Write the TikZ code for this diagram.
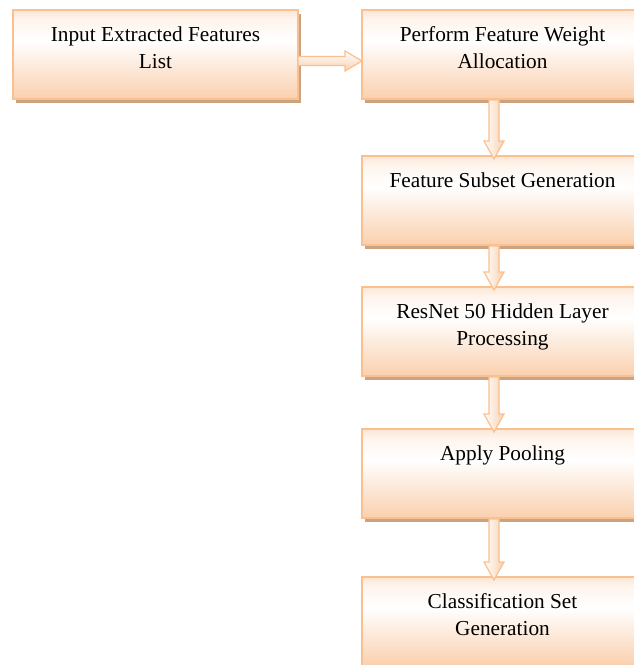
\documentclass[tikz,border=0pt]{standalone}
\usepackage{fontspec}
\setmainfont{Liberation Serif}
\usetikzlibrary{calc,shadows}
\definecolor{bord}{RGB}{250,192,144}
\definecolor{pkbot}{RGB}{250,208,174}
\definecolor{pktop}{RGB}{252,230,214}
\definecolor{pkmid}{RGB}{254,244,236}
\definecolor{shadc}{RGB}{204,163,128}
\pgfdeclareverticalshading{boxshade}{100bp}{color(0bp)=(pkbot); color(25bp)=(pkbot); color(58bp)=(white); color(70bp)=(pkmid); color(75bp)=(pktop); color(100bp)=(pktop)}
\newcommand\hblk[2]{%
  \begin{scope}[shift={(2pt,-3pt)}]
  \path[arrshadow] let \p1=(#1), \p2=(#2) in
    (\x1,\y1+4.5) -- (\x2-17,\y1+4.5) -- (\x2-17,\y1+10) -- (\x2,\y1) -- (\x2-17,\y1-10) -- (\x2-17,\y1-4.5) -- (\x1,\y1-4.5) -- cycle;
  \end{scope}
  \path[arr,top color=white,bottom color=pkbot] let \p1=(#1), \p2=(#2) in
    (\x1,\y1+4.5) -- (\x2-17,\y1+4.5) -- (\x2-17,\y1+10) -- (\x2,\y1) -- (\x2-17,\y1-10) -- (\x2-17,\y1-4.5) -- (\x1,\y1-4.5) -- cycle;
}
\newcommand\vblk[2]{%
  \begin{scope}[shift={(3pt,-2pt)}]
  \path[arrshadow] let \p1=(#1), \p2=(#2) in
    (\x1-5,\y1) -- (\x1-5,\y2+18) -- (\x1-10,\y2+18) -- (\x1,\y2) -- (\x1+10,\y2+18) -- (\x1+5,\y2+18) -- (\x1+5,\y1) -- cycle;
  \end{scope}
  \path[arr,left color=white,right color=pkbot] let \p1=(#1), \p2=(#2) in
    (\x1-5,\y1) -- (\x1-5,\y2+18) -- (\x1-10,\y2+18) -- (\x1,\y2) -- (\x1+10,\y2+18) -- (\x1+5,\y2+18) -- (\x1+5,\y1) -- cycle;
}
\begin{document}
\begin{tikzpicture}[x=1pt,y=1pt,
  box/.style={draw=bord,line width=2pt,shading=boxshade,minimum width=#1,minimum height=89pt,anchor=north west,inner sep=0pt,outer sep=0pt,drop shadow={shadow xshift=3pt,shadow yshift=-4pt,fill=shadc,opacity=1}},
  lbl/.style={anchor=north,align=center,inner sep=0pt,font=\fontsize{21.3}{27}\selectfont},
  arr/.style={draw=bord,line width=1.2pt,line join=miter},
  arrshadow/.style={fill=shadc,draw=none}]
\useasboundingbox (0,0) rectangle (633,-665);
\node[box=285pt] (b1) at (13,-10) {};
\node[box=281pt] (b2) at (362,-10) {};
\node[box=281pt] (b3) at (362,-156) {};
\node[box=281pt] (b4) at (362,-287) {};
\node[box=281pt] (b5) at (362,-429) {};
\node[box=281pt] (b6) at (362,-577) {};
\node[lbl] (t1) at ([yshift=-16.5pt]b1.north) {Input Extracted Features\\List};
\node[lbl] (t2) at ([yshift=-16.5pt]b2.north) {Perform Feature Weight\\Allocation};
\node[lbl] (t3) at ([yshift=-16.5pt]b3.north) {Feature Subset Generation};
\node[lbl] (t4) at ([yshift=-16.5pt]b4.north) {ResNet 50 Hidden Layer\\Processing};
\node[lbl] (t5) at ([yshift=-16.5pt]b5.north) {Apply Pooling};
\node[lbl] (t6) at ([yshift=-16.5pt]b6.north) {Classification Set\\Generation};
\hblk{[yshift=-6.5pt]b1.east}{[yshift=-6.5pt]b2.west}
\vblk{[xshift=-8.5pt,yshift=-1pt]b2.south}{[xshift=-8.5pt,yshift=-3pt]b3.north}
\vblk{[xshift=-8.5pt,yshift=-1pt]b3.south}{[xshift=-8.5pt,yshift=-3pt]b4.north}
\vblk{[xshift=-8.5pt,yshift=-1pt]b4.south}{[xshift=-8.5pt,yshift=-3pt]b5.north}
\vblk{[xshift=-8.5pt,yshift=-1pt]b5.south}{[xshift=-8.5pt,yshift=-3pt]b6.north}
\end{tikzpicture}
\end{document}
